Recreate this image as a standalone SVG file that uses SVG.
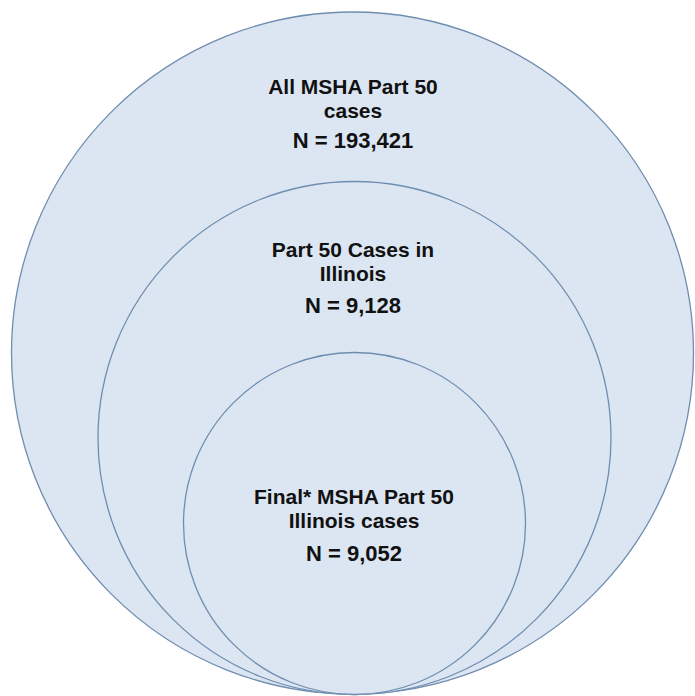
<svg xmlns="http://www.w3.org/2000/svg" width="695" height="696" viewBox="0 0 695 696">
<style>
.c{fill:#dce6f2;stroke:#6f8db0;stroke-width:1.3}
.t{font-family:"Liberation Sans",Arial,sans-serif;font-weight:bold;font-size:21px;fill:#111;text-anchor:middle}
.n{font-size:22px}
</style>
<rect width="695" height="696" fill="#fff"/>
<g id="outer">
<circle class="c" cx="352.5" cy="353" r="341"/>
<text class="t" x="353" y="94">All MSHA Part 50</text>
<text class="t" x="353" y="118">cases</text>
<text class="t n" x="353" y="148">N = 193,421</text>
</g>
<g id="middle">
<circle class="c" cx="354.5" cy="438" r="256.5"/>
<text class="t" x="353" y="257">Part 50 Cases in</text>
<text class="t" x="353" y="281">Illinois</text>
<text class="t n" x="353" y="313">N = 9,128</text>
</g>
<g id="inner">
<circle class="c" cx="354.5" cy="523.5" r="171"/>
<text class="t" x="354" y="504">Final* MSHA Part 50</text>
<text class="t" x="354" y="528">Illinois cases</text>
<text class="t n" x="354" y="561">N = 9,052</text>
</g>
<g id="connectors"></g>
</svg>
